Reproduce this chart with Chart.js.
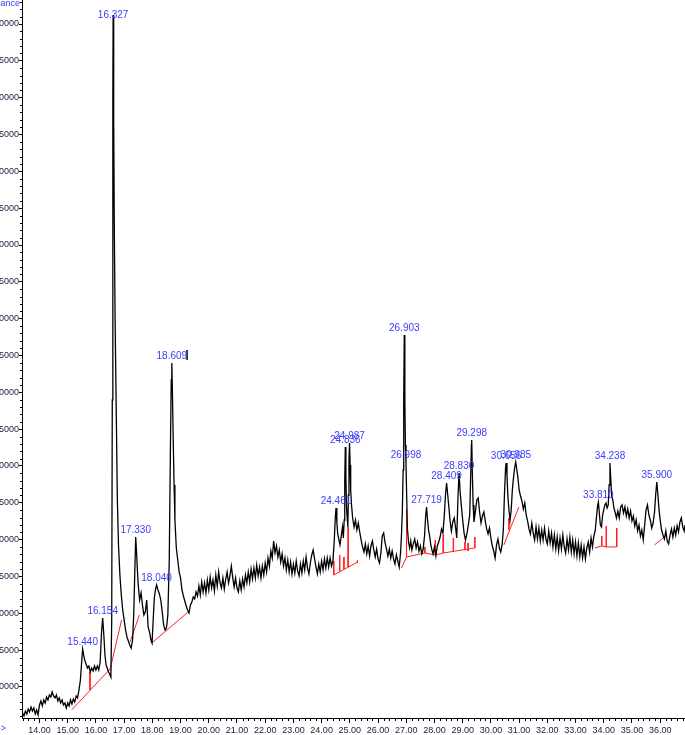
<!DOCTYPE html>
<html>
<head>
<meta charset="utf-8">
<script src="https://cdn.jsdelivr.net/npm/chart.js@4.4.1/dist/chart.umd.min.js"></script>
<style>
  html, body { margin: 0; padding: 0; overflow: hidden; background: #fff; width: 685px; height: 735px; }
  #wrap { position: relative; width: 685px; height: 735px; overflow: hidden; }
  #tic { position: absolute; left: -35px; top: 0; }
</style>
</head>
<body>
<div id="wrap"><canvas id="tic" width="720" height="750"></canvas></div>
<script>
// total ion chromatogram, [time (min), abundance]
const trace = [
  [13.40, 6470], [13.45, 6060], [13.50, 6740], [13.55, 6330], [13.60, 7010], [13.65, 6610], [13.70, 7280], [13.75, 6740],
  [13.80, 7150], [13.85, 6330], [13.90, 6880], [13.95, 6200], [14.00, 7560], [14.05, 8100], [14.10, 7420], [14.15, 8240],
  [14.20, 7830], [14.25, 8640], [14.30, 8240], [14.35, 8920], [14.40, 8640], [14.45, 9320], [14.50, 8780], [14.55, 8510],
  [14.60, 8920], [14.65, 8100], [14.70, 8510], [14.75, 7830], [14.80, 8240], [14.85, 7560], [14.90, 7830], [14.95, 7150],
  [15.00, 7830], [15.05, 7420], [15.10, 8240], [15.15, 7690], [15.20, 8370], [15.25, 7960], [15.30, 8780], [15.35, 8510],
  [15.40, 9590], [15.45, 10950], [15.50, 13670], [15.53, 15160], [15.56, 14480], [15.60, 13670], [15.65, 13120], [15.70, 12580],
  [15.75, 12850], [15.80, 12040], [15.85, 12580], [15.90, 12170], [15.95, 12850], [16.00, 12310], [16.05, 12850], [16.10, 12310],
  [16.15, 13390], [16.20, 17470], [16.24, 19370], [16.28, 17060], [16.32, 14340], [16.36, 12990], [16.40, 12580], [16.45, 12040],
  [16.50, 11630], [16.53, 11360], [16.56, 19100], [16.58, 48960], [16.60, 89690], [16.61, 101220], [16.63, 86970], [16.65, 73400],
  [16.68, 59820], [16.72, 47600], [16.76, 35390], [16.80, 29280], [16.85, 25200], [16.90, 22490], [16.95, 20450], [17.00, 19100],
  [17.05, 17740], [17.10, 16790], [17.15, 16240], [17.20, 15700], [17.25, 15290], [17.30, 16380], [17.34, 19770], [17.38, 25880],
  [17.41, 30360], [17.44, 28330], [17.47, 25880], [17.50, 23850], [17.55, 21810], [17.60, 22760], [17.65, 21130], [17.70, 19770],
  [17.75, 20180], [17.80, 21810], [17.85, 18150], [17.90, 17470], [17.95, 16380], [17.99, 15970], [18.03, 19100], [18.07, 22080],
  [18.11, 23170], [18.15, 23850], [18.20, 23170], [18.25, 22630], [18.30, 21810], [18.35, 20180], [18.40, 18420], [18.45, 17740],
  [18.50, 18010], [18.55, 19770], [18.60, 27240], [18.64, 42170], [18.67, 51680], [18.69, 53980], [18.71, 50320], [18.74, 43530],
  [18.77, 37420], [18.80, 32670], [18.85, 28870], [18.90, 27240], [18.95, 25610], [19.00, 24800], [19.05, 23170], [19.10, 22350],
  [19.15, 21670], [19.20, 21000], [19.25, 20450], [19.30, 20050], [19.35, 21130], [19.40, 21540], [19.45, 22220], [19.50, 21950],
  [19.55, 22890], [19.60, 22350], [19.65, 23710], [19.70, 22490], [19.75, 24250], [19.80, 22890], [19.85, 24120], [19.90, 22760],
  [19.95, 24530], [20.00, 23170], [20.05, 24930], [20.10, 23440], [20.15, 24530], [20.20, 23030], [20.25, 25200], [20.30, 23710],
  [20.35, 25610], [20.40, 24120], [20.45, 23440], [20.50, 24800], [20.55, 23300], [20.60, 24660], [20.65, 25610], [20.70, 24120],
  [20.75, 25070], [20.80, 26420], [20.85, 24800], [20.90, 23570], [20.95, 24800], [21.00, 23440], [21.05, 22890], [21.10, 24390],
  [21.15, 23170], [21.20, 24660], [21.25, 23570], [21.30, 25200], [21.35, 24120], [21.40, 25610], [21.45, 24250], [21.50, 26020],
  [21.55, 24660], [21.60, 26150], [21.65, 24800], [21.70, 26560], [21.75, 25070], [21.80, 26290], [21.85, 24800], [21.90, 26420],
  [21.95, 25200], [22.00, 26830], [22.05, 25610], [22.10, 27510], [22.15, 26420], [22.20, 28460], [22.25, 27510], [22.30, 29820],
  [22.35, 28190], [22.40, 29140], [22.45, 27650], [22.50, 28600], [22.55, 26970], [22.60, 28060], [22.65, 26420], [22.70, 27510],
  [22.75, 25880], [22.80, 27240], [22.85, 25610], [22.90, 26970], [22.95, 25340], [23.00, 26690], [23.05, 25470], [23.10, 27100],
  [23.15, 25750], [23.20, 25070], [23.25, 26690], [23.30, 25470], [23.35, 27100], [23.40, 25880], [23.45, 27650], [23.50, 26150],
  [23.55, 25340], [23.60, 26830], [23.65, 27920], [23.70, 28600], [23.75, 27380], [23.80, 26290], [23.85, 25340], [23.90, 26690],
  [23.95, 25610], [24.00, 27100], [24.05, 25880], [24.10, 27380], [24.15, 26150], [24.20, 27510], [24.25, 26290], [24.30, 27510],
  [24.35, 26420], [24.40, 27100], [24.45, 29960], [24.48, 32670], [24.51, 34300], [24.54, 32400], [24.57, 30770], [24.60, 30230],
  [24.65, 29280], [24.70, 30630], [24.74, 31720], [24.77, 30230], [24.80, 32670], [24.82, 38100], [24.84, 42580], [24.86, 38780],
  [24.88, 34710], [24.90, 33350], [24.93, 31720], [24.95, 36060], [24.97, 40820], [24.99, 43120], [25.01, 40140], [25.03, 36740],
  [25.06, 34710], [25.10, 32940], [25.15, 31720], [25.20, 32670], [25.25, 31310], [25.30, 32260], [25.35, 31040], [25.40, 29960],
  [25.45, 29010], [25.50, 28330], [25.55, 29420], [25.60, 28060], [25.65, 29140], [25.70, 27780], [25.75, 29140], [25.80, 29820],
  [25.85, 28600], [25.90, 27650], [25.95, 28730], [26.00, 27380], [26.05, 26830], [26.10, 28190], [26.15, 30500], [26.20, 30900],
  [26.25, 29550], [26.30, 28730], [26.35, 27780], [26.40, 28730], [26.45, 27510], [26.50, 28460], [26.55, 27380], [26.60, 26700],
  [26.65, 27920], [26.70, 27100], [26.75, 26290], [26.80, 28330], [26.83, 30630], [26.86, 33760], [26.89, 39460], [26.91, 48960],
  [26.93, 57780], [26.95, 48960], [26.97, 42850], [26.99, 40540], [27.01, 36740], [27.04, 31580], [27.08, 29690], [27.12, 28870],
  [27.16, 29820], [27.20, 28600], [27.25, 29420], [27.30, 30090], [27.35, 28870], [27.40, 29690], [27.45, 28460], [27.50, 29140],
  [27.55, 28060], [27.60, 28730], [27.65, 30630], [27.69, 33350], [27.72, 34440], [27.75, 32940], [27.79, 31310], [27.83, 30500],
  [27.87, 29280], [27.91, 28600], [27.95, 28060], [28.00, 29010], [28.05, 27780], [28.10, 29140], [28.15, 29690], [28.20, 30360],
  [28.25, 31450], [28.30, 30900], [28.35, 33350], [28.39, 36060], [28.43, 37690], [28.47, 36060], [28.51, 34440], [28.55, 32670],
  [28.60, 31180], [28.65, 32400], [28.70, 32940], [28.75, 31580], [28.79, 30230], [28.83, 35390], [28.87, 39050], [28.91, 36470],
  [28.95, 34710], [29.00, 32670], [29.05, 30900], [29.10, 29960], [29.15, 30770], [29.20, 31990], [29.25, 33350], [29.28, 38100],
  [29.31, 42850], [29.32, 43530], [29.34, 39460], [29.37, 34710], [29.40, 32400], [29.45, 33760], [29.50, 35390], [29.55, 35660],
  [29.60, 33760], [29.65, 32260], [29.70, 33210], [29.75, 33760], [29.80, 32540], [29.85, 31450], [29.90, 30770], [29.95, 31580],
  [30.00, 30230], [30.05, 29140], [30.10, 28460], [30.15, 27510], [30.20, 29280], [30.25, 30090], [30.30, 28870], [30.35, 28330],
  [30.40, 29420], [30.44, 31310], [30.48, 36060], [30.52, 39730], [30.54, 40410], [30.57, 38780], [30.60, 36060], [30.64, 34030],
  [30.68, 32670], [30.72, 34030], [30.76, 36740], [30.80, 38370], [30.84, 39730], [30.88, 40540], [30.92, 39460], [30.96, 38370],
  [31.00, 36740], [31.05, 35930], [31.10, 35250], [31.15, 34160], [31.20, 34980], [31.25, 33350], [31.30, 32540], [31.35, 31450],
  [31.40, 30770], [31.45, 32260], [31.50, 30900], [31.55, 29960], [31.60, 31720], [31.65, 30090], [31.70, 31580], [31.75, 29820],
  [31.80, 31310], [31.85, 29960], [31.90, 31580], [31.95, 30090], [32.00, 29420], [32.05, 31180], [32.10, 29550], [32.15, 30900],
  [32.20, 29010], [32.25, 30630], [32.30, 28730], [32.35, 30360], [32.40, 28460], [32.45, 30230], [32.50, 28730], [32.55, 30630],
  [32.60, 29010], [32.65, 28190], [32.70, 30090], [32.75, 28600], [32.80, 30360], [32.85, 28330], [32.90, 29960], [32.95, 28060],
  [33.00, 29690], [33.05, 27780], [33.10, 29550], [33.15, 27650], [33.20, 29280], [33.25, 27510], [33.30, 29010], [33.35, 27380],
  [33.40, 28870], [33.45, 29690], [33.50, 28330], [33.55, 30230], [33.60, 29010], [33.65, 30500], [33.70, 31310], [33.74, 32940],
  [33.78, 34570], [33.81, 35120], [33.84, 33760], [33.88, 31990], [33.92, 31720], [33.96, 33350], [34.00, 34030], [34.04, 34710],
  [34.08, 34980], [34.12, 34300], [34.16, 34710], [34.19, 37420], [34.22, 40410], [34.25, 38100], [34.28, 35930], [34.32, 35390],
  [34.36, 34300], [34.40, 33760], [34.45, 32940], [34.50, 33890], [34.55, 32940], [34.60, 34440], [34.65, 34710], [34.70, 33620],
  [34.75, 34440], [34.80, 33210], [34.85, 34160], [34.90, 32940], [34.95, 33890], [35.00, 32540], [35.05, 33210], [35.10, 31860],
  [35.15, 32670], [35.20, 31180], [35.25, 31990], [35.30, 30500], [35.35, 31310], [35.40, 29960], [35.45, 31990], [35.50, 34030],
  [35.55, 34710], [35.60, 33350], [35.65, 32670], [35.70, 31580], [35.75, 32260], [35.80, 33760], [35.84, 36060], [35.88, 37830],
  [35.92, 36060], [35.96, 34030], [36.00, 32670], [36.05, 31310], [36.10, 30630], [36.15, 30090], [36.20, 31180], [36.25, 29820],
  [36.30, 29420], [36.35, 30630], [36.40, 31450], [36.45, 30360], [36.50, 31580], [36.55, 30630], [36.60, 31860], [36.65, 31040],
  [36.70, 32400], [36.75, 32940], [36.80, 31720], [36.85, 31180], [36.88, 31990]
];

// integration baselines (red)
const baselines = [
  [[15.14, 6880], [16.50, 12440]],
  [[16.50, 12310], [16.91, 19100]],
  [[17.21, 16110], [17.54, 19770]],
  [[17.98, 15970], [19.27, 20180]],
  [[24.43, 25200], [25.28, 26970]],
  [[26.83, 26150], [27.01, 27650], [27.66, 28190], [28.03, 27920], [28.31, 28190], [29.43, 28870]],
  [[30.46, 29280], [30.99, 34430]],
  [[33.69, 28870], [33.93, 29140], [34.09, 29010], [34.46, 29010]],
  [[35.80, 29280], [36.19, 30500]]
];
// drop lines: [time, top, bottom]
const drops = [
  [15.79, 12040, 9590], [24.43, 27100, 25200], [24.64, 27920, 25750], [24.79, 27650, 26020],
  [24.94, 31720, 26290], [25.27, 27240, 26830], [27.01, 34170, 27650], [27.66, 29010, 28190],
  [28.03, 29960, 27920], [28.31, 30630, 28190], [28.67, 30230, 28330], [29.08, 29690, 28600],
  [29.19, 29550, 28460], [29.43, 30360, 28870], [30.64, 32940, 31310], [33.93, 30500, 29140],
  [34.09, 31850, 29010], [34.46, 31580, 29010]
];
// event marker beside 18.609
const marker = [[19.23, 55750], [19.23, 54390]];

const peakNames = ['15.440', '16.154', '16.327', '17.330', '18.040', '18.609', '24.461', '24.836', '24.987', '26.903',
  '26.998', '27.719', '28.409', '28.830', '29.298', '30.656', '30.985', '33.810', '34.238', '35.900'];
const peakTimes = [15.53, 16.24, 16.61, 17.41, 18.15, 18.69, 24.51, 24.84, 24.99, 26.93,
  26.99, 27.72, 28.43, 28.87, 29.32, 30.54, 30.88, 33.81, 34.22, 35.88];
const peakAbund = [15160, 19370, 101220, 30360, 23850, 53980, 34300, 42580, 43120, 57780,
  40540, 34440, 37690, 39050, 43530, 40410, 40540, 35120, 40410, 37830];

const yTicks = [10000, 15000, 20000, 25000, 30000, 35000, 40000, 45000, 50000, 55000,
  60000, 65000, 70000, 75000, 80000, 85000, 90000, 95000, 100000];

const FONT = '"Liberation Sans", Arial, sans-serif';

const redPts = [];
baselines.forEach(seg => {
  seg.forEach(p => redPts.push({x: p[0], y: p[1]}));
  redPts.push({x: seg[seg.length - 1][0], y: null});
});
drops.forEach(d => {
  redPts.push({x: d[0], y: d[1]});
  redPts.push({x: d[0], y: d[2]});
  redPts.push({x: d[0], y: null});
});

// minor ticks + texts
const extras = {
  id: 'extras',
  afterDraw(chart) {
    const c = chart.ctx, xs = chart.scales.x, ys = chart.scales.y, area = chart.chartArea;
    c.save();
    c.strokeStyle = '#000';
    c.lineWidth = 1;
    c.beginPath();
    for (let k = 67; k <= 184; k++) {
      if (k % 5 === 0) continue;
      const px = Math.round(xs.getPixelForValue(k / 5)) + 0.5;
      c.moveTo(px, area.bottom);
      c.lineTo(px, area.bottom + 3);
    }
    for (let k = 6; k <= 103; k++) {
      if (k % 5 === 0) continue;
      const py = Math.round(ys.getPixelForValue(k * 1000)) + 0.5;
      c.moveTo(area.left - 2, py);
      c.lineTo(area.left, py);
    }
    c.stroke();

    c.fillStyle = '#3b3bff';
    c.textAlign = 'center';
    c.textBaseline = 'middle';
    c.font = '10px ' + FONT;
    peakNames.forEach((name, i) => {
      const px = xs.getPixelForValue(peakTimes[i]);
      const py = Math.max(ys.getPixelForValue(peakAbund[i]) - 7, area.top + 15);
      c.fillText(name, px, py);
    });
    c.font = '9px ' + FONT;
    c.textAlign = 'right';
    c.fillText('Abundance', area.left - 2, 4);
    c.fillText('Time-->', area.left - 16, area.bottom + 11);
    c.restore();
  }
};

new Chart(document.getElementById('tic'), {
  type: 'line',
  data: {
    datasets: [
      {
        data: trace.map(p => ({x: p[0], y: p[1]})),
        borderColor: '#000',
        borderWidth: 1.3,
        pointRadius: 0,
        tension: 0
      },
      {
        data: redPts,
        borderColor: '#ff2020',
        borderWidth: 1,
        pointRadius: 0,
        spanGaps: false
      },
      {
        data: marker.map(p => ({x: p[0], y: p[1]})),
        borderColor: '#000',
        borderWidth: 1.5,
        pointRadius: 0
      }
    ]
  },
  options: {
    responsive: false,
    animation: false,
    layout: { padding: 0 },
    plugins: { legend: { display: false }, tooltip: { enabled: false } },
    scales: {
      x: {
        type: 'linear',
        min: 13.38,
        max: 36.88,
        ticks: {
          stepSize: 1, includeBounds: false, autoSkip: false, maxRotation: 0, padding: 2,
          color: '#1c1c3c', font: { size: 9, family: FONT },
          callback: v => v.toFixed(2)
        },
        grid: { drawOnChartArea: false, tickLength: 5, color: '#000' },
        border: { color: '#000', width: 1 },
        afterFit: s => { s.height = 32; }
      },
      y: {
        min: 5790,
        max: 103260,
        ticks: {
          autoSkip: false, padding: 0,
          color: '#1c1c3c', font: { size: 9, family: FONT },
          callback: v => String(v)
        },
        afterBuildTicks: s => { s.ticks = yTicks.map(v => ({value: v})); },
        grid: { drawOnChartArea: false, tickLength: 3, color: '#000' },
        border: { color: '#000', width: 1 },
        afterFit: s => { s.width = 57; s.paddingTop = 0; s.paddingBottom = 0; }
      }
    }
  },
  plugins: [extras]
});
</script>
</body>
</html>
